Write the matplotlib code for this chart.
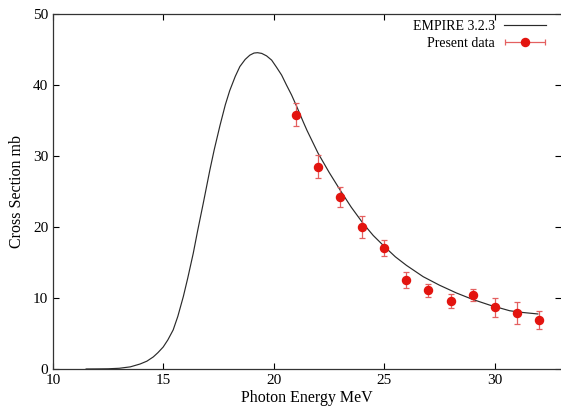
import matplotlib
matplotlib.use("Agg")
import matplotlib.pyplot as plt
from matplotlib.legend_handler import HandlerErrorbar
import numpy as np

# EMPIRE 3.2.3 calculation
e_calc = [11.5, 12.0, 12.5, 13.0, 13.5, 13.94, 14.25, 14.54, 14.75, 14.99,
          15.2, 15.44, 15.65, 15.9, 16.1, 16.35, 16.55, 16.8, 17.1, 17.3,
          17.56, 17.8, 18.0, 18.25, 18.46, 18.7, 18.91, 19.1, 19.26, 19.45,
          19.67, 19.9, 20.12, 20.35, 20.57, 20.8, 21.03, 21.33, 21.5, 21.75,
          22.0, 22.5, 23.0, 23.5, 24.04, 24.5, 25.02, 25.5, 26.0, 26.76,
          27.5, 28.27, 29.0, 29.77, 30.68, 31.3, 31.95]
xs_calc = [0.0, 0.01, 0.03, 0.1, 0.3, 0.7, 1.1, 1.7, 2.3, 3.1,
           4.1, 5.5, 7.4, 10.2, 12.8, 16.3, 19.5, 23.3, 28.0, 30.9,
           34.3, 37.2, 39.2, 41.2, 42.6, 43.6, 44.2, 44.5, 44.55, 44.45,
           44.1, 43.5, 42.5, 41.4, 40.0, 38.6, 37.0, 34.8, 33.6, 32.0,
           30.4, 27.7, 25.2, 22.8, 20.5, 18.8, 17.2, 15.8, 14.6, 13.0,
           11.8, 10.7, 9.8, 9.0, 8.2, 7.95, 7.75]

# present data
e_data = [21, 22, 23, 24, 25, 26, 27, 28, 29, 30, 31, 32]
xs_data = [35.8, 28.5, 24.2, 20.0, 17.0, 12.5, 11.1, 9.6, 10.4, 8.7, 7.9, 6.9]
xs_err = [1.6, 1.6, 1.4, 1.5, 1.1, 1.1, 0.9, 1.0, 0.85, 1.35, 1.6, 1.25]

plt.rcParams['font.family'] = ['Liberation Serif', 'DejaVu Serif']
plt.rcParams['font.size'] = 11

red = '#e3140f'
bar_red = '#e46060'

fig = plt.figure(figsize=(5.61, 4.07), dpi=100)
ax = fig.add_axes([0.0945, 0.0934, 0.9055, 0.8722])

line, = ax.plot(e_calc, xs_calc, color='#2a2a2a', lw=0.85)
ax.errorbar(e_data, xs_data, yerr=xs_err, fmt='o', color=red, ms=5.8,
            ecolor=bar_red, elinewidth=0.9, capsize=2.2, capthick=0.9)

# legend proxy: gnuplot style horizontal error bar
proxy = ax.errorbar([np.nan], [np.nan], xerr=[1], fmt='o', color=red, ms=5.8,
                    ecolor=bar_red, elinewidth=0.9, capsize=2.2, capthick=0.9)

ax.set_xlim(10, 33)
ax.set_ylim(0, 50)
ax.set_xticks([10, 15, 20, 25, 30])
ax.set_yticks(np.arange(0, 51, 10))
ax.tick_params(direction='in', top=True, right=True, length=4, width=0.8)
for s in ax.spines.values():
    s.set_linewidth(0.9)
    s.set_color('#333333')
ax.spines['right'].set_visible(False)

ax.set_xlabel('Photon Energy MeV', fontsize=11.5, labelpad=2)
ax.set_ylabel('Cross Section mb', fontsize=11.5, labelpad=6)

ax.legend([line, proxy], ['EMPIRE 3.2.3', 'Present data'],
          handler_map={proxy: HandlerErrorbar(xerr_size=1.45)},
          loc='upper right', frameon=False, markerfirst=False, fontsize=10,
          handlelength=3.0, borderaxespad=0, labelspacing=0.27,
          handletextpad=0.65, bbox_to_anchor=(0.981, 0.998))

fig.savefig('out.png', dpi=100)
